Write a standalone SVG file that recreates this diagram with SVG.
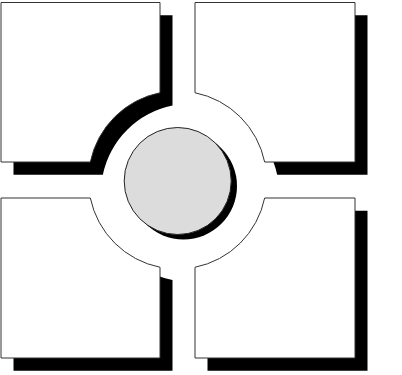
<svg xmlns="http://www.w3.org/2000/svg" xmlns:xlink="http://www.w3.org/1999/xlink" width="402" height="375" viewBox="0 0 402 375">
<style>
.shape{fill:#fff;stroke:#333;stroke-width:1}
.shadow{fill:#000;stroke:none}
.hub{fill:#dcdcdc;stroke:#222;stroke-width:1}
</style>
<defs>
<path id="pTL" d="M1,2.5 H160 V92.74 A89,89 0 0 0 90.34,162 H1 Z"/>
<path id="pTR" d="M355,2.5 V162 H264.66 A89,89 0 0 0 195,92.74 V2.5 Z"/>
<path id="pBL" d="M1,198 H90.34 A89,89 0 0 0 160,267.26 V358 H1 Z"/>
<path id="pBR" d="M195,267.26 A89,89 0 0 0 264.66,198 H355 V358 H195 Z"/>
<clipPath id="cTR"><rect x="355" y="0" width="47" height="200"/><rect x="180" y="162" width="222" height="30"/></clipPath>
<clipPath id="cBL"><rect x="160" y="190" width="25" height="185"/><rect x="0" y="358" width="185" height="17"/></clipPath>
</defs>
<rect width="402" height="375" fill="#fff"/>
<g id="top-left">
<use xlink:href="#pTL" class="shadow" transform="translate(12.5,12.8)"/>
<use xlink:href="#pTL" class="shape"/>
</g>
<g id="top-right">
<g clip-path="url(#cTR)"><use xlink:href="#pTR" class="shadow" transform="translate(12.5,12.8)"/></g>
<use xlink:href="#pTR" class="shape"/>
</g>
<g id="bottom-left">
<g clip-path="url(#cBL)"><use xlink:href="#pBL" class="shadow" transform="translate(12.5,12.8)"/></g>
<use xlink:href="#pBL" class="shape"/>
</g>
<g id="bottom-right">
<use xlink:href="#pBR" class="shadow" transform="translate(12.5,12.8)"/>
<use xlink:href="#pBR" class="shape"/>
</g>
<g id="center">
<circle cx="183.5" cy="186" r="53.5" class="shadow"/>
<circle cx="177.7" cy="181" r="53.5" class="hub"/>
</g>
</svg>
